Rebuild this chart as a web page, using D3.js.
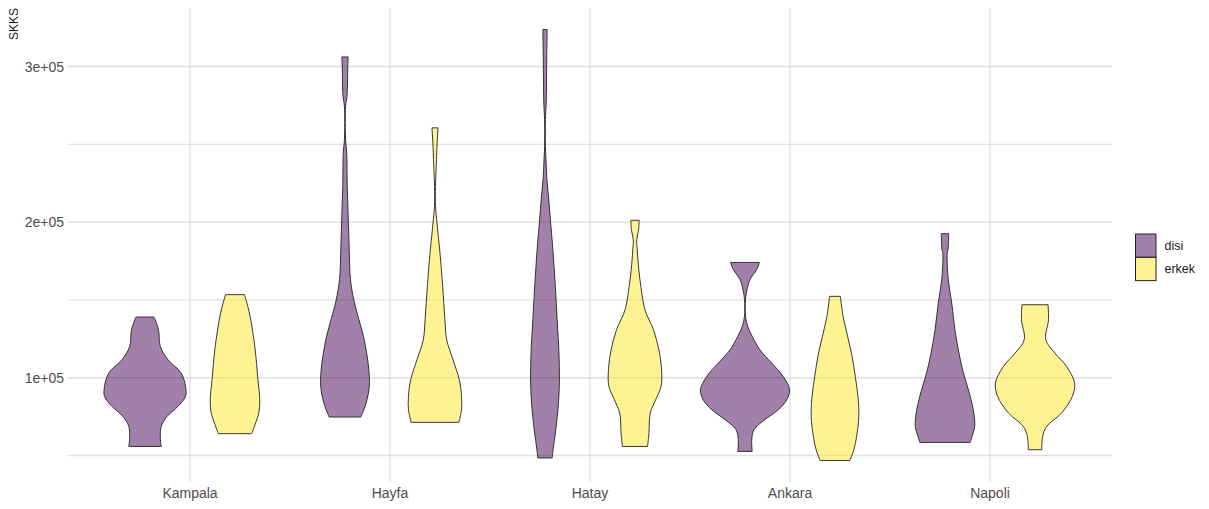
<!DOCTYPE html>
<html>
<head>
<meta charset="utf-8">
<script src="https://cdn.jsdelivr.net/npm/d3@7"></script>
<style>
  html, body { margin: 0; padding: 0; background: #ffffff; }
  svg { display: block; font-family: "Liberation Sans", Arial, sans-serif; }
</style>
</head>
<body>
<svg id="chart" width="1209" height="509"></svg>
<script>
// ---- data (SKKS values and relative violin density) ----
const cities = ["Kampala", "Hayfa", "Hatay", "Ankara", "Napoli"];
const groups = ["disi", "erkek"];
const fillColors = ["#440154", "#FDE725"];
const yTicks = [1e5, 2e5, 3e5];
const yMinorTicks = [5e4, 1.5e5, 2.5e5];
const yTickLabels = ["1e+05", "2e+05", "3e+05"];
const yTitle = "SKKS";

// [SKKS, relative density]
const kampalaDisi = [[139000,.20],[130900,.30],[120100,.34],[111600,.51],[103200,.80],[94400,.90],[88000,.90],[81500,.73],[75100,.49],[68700,.36],[62200,.34],[55800,.36]];
const kampalaErkek = [[153400,.21],[141600,.32],[120100,.44],[98700,.51],[85900,.55],[77500,.53],[71100,.46],[64000,.37]];
const hayfaDisi = [[306200,.07],[298100,.06],[280900,.045],[274500,.013],[253100,.013],[244700,.038],[223000,.05],[201600,.073],[180400,.096],[167500,.11],[158700,.14],[148200,.21],[137300,.31],[126600,.41],[116100,.48],[105100,.53],[94400,.54],[85900,.49],[79400,.42],[74700,.35]];
const hayfaErkek = [[260600,.067],[248800,.044],[240200,.033],[223000,.011],[210200,.011],[201600,.038],[190900,.073],[180400,.11],[158700,.17],[137300,.22],[124400,.26],[111600,.40],[98700,.54],[88000,.59],[79400,.59],[71300,.53]];
const hatayDisi = [[323800,.049],[304500,.038],[276700,.027],[265900,.009],[248800,.009],[240200,.022],[227300,.044],[214500,.084],[201600,.12],[180400,.18],[158700,.23],[137300,.27],[116100,.31],[98700,.32],[83900,.30],[66600,.24],[53700,.18],[48400,.16]];
const hatayErkek = [[201200,.093],[194700,.078],[188700,.038],[182300,.049],[169500,.084],[158700,.13],[143700,.22],[130900,.41],[118000,.53],[105100,.59],[94400,.58],[85900,.46],[77300,.34],[64400,.31],[55800,.28]];
const ankaraDisi = [[174100,.32],[169500,.26],[163000,.11],[156600,.044],[150200,.011],[139400,.011],[133000,.06],[126600,.16],[118000,.33],[109500,.59],[100800,.85],[92300,.99],[85900,.93],[79400,.74],[73000,.44],[66600,.20],[60100,.15],[52600,.16]];
const ankaraErkek = [[152300,.12],[139400,.18],[126600,.28],[113700,.38],[100800,.45],[88000,.51],[75100,.53],[62200,.48],[53700,.42],[46800,.33]];
const napoliDisi = [[192600,.082],[182300,.067],[180200,.049],[163000,.073],[148000,.15],[130900,.22],[115900,.31],[103000,.41],[90200,.54],[77300,.64],[68700,.66],[62200,.60],[58400,.56]];
const napoliErkek = [[146900,.29],[137300,.30],[124400,.24],[115900,.44],[107300,.70],[96600,.88],[88000,.83],[77300,.59],[68700,.26],[62200,.17],[53700,.15]];

const violins = [
  {city:"Kampala", group:"disi", pts:kampalaDisi},
  {city:"Kampala", group:"erkek", pts:kampalaErkek},
  {city:"Hayfa", group:"disi", pts:hayfaDisi},
  {city:"Hayfa", group:"erkek", pts:hayfaErkek},
  {city:"Hatay", group:"disi", pts:hatayDisi},
  {city:"Hatay", group:"erkek", pts:hatayErkek},
  {city:"Ankara", group:"disi", pts:ankaraDisi},
  {city:"Ankara", group:"erkek", pts:ankaraErkek},
  {city:"Napoli", group:"disi", pts:napoliDisi},
  {city:"Napoli", group:"erkek", pts:napoliErkek}
];

// ---- layout ----
const svg = d3.select("#chart");
const panel = {left: 68, right: 1112, top: 8, bottom: 482};

const allVals = violins.flatMap(v => v.pts.map(p => p[0]));
const vMin = d3.min(allVals), vMax = d3.max(allVals);
const pad = (vMax - vMin) * 0.05;
const y = d3.scaleLinear().domain([vMin - pad, vMax + pad]).range([panel.bottom, panel.top]);

const x = d3.scaleBand().domain(cities).range([70, 1110]).paddingInner(0).paddingOuter(0.1);
const xSub = d3.scaleBand().domain(groups).range([x.bandwidth()*0.05, x.bandwidth()*0.95]);
const w = d3.scaleLinear().domain([0, 1]).range([0, xSub.bandwidth() / 2]);
const color = d3.scaleOrdinal().domain(groups).range(fillColors);

// gridlines
const grid = svg.append("g");
grid.selectAll("line.hmin").data(yMinorTicks).join("line")
  .attr("x1", panel.left).attr("x2", panel.right)
  .attr("y1", d => y(d)).attr("y2", d => y(d))
  .attr("stroke", "#e2e2e2").attr("stroke-width", 1.4);
grid.selectAll("line.hmaj").data(yTicks).join("line")
  .attr("x1", panel.left).attr("x2", panel.right)
  .attr("y1", d => y(d)).attr("y2", d => y(d))
  .attr("stroke", "#dedede").attr("stroke-width", 1.4);
grid.selectAll("line.v").data(cities).join("line")
  .attr("x1", d => x(d) + x.bandwidth()/2).attr("x2", d => x(d) + x.bandwidth()/2)
  .attr("y1", panel.top).attr("y2", panel.bottom)
  .attr("stroke", "#d6d6d6").attr("stroke-width", 1);

// violins
const vg = svg.append("g");
violins.forEach(v => {
  const cx = x(v.city) + xSub(v.group) + xSub.bandwidth()/2;
  const area = d3.area()
    .y(p => y(p[0]))
    .x0(p => cx - w(p[1]))
    .x1(p => cx + w(p[1]))
    .curve(d3.curveCatmullRom.alpha(0.5));
  const pts = v.pts.slice().sort((a, b) => b[0] - a[0]);
  vg.append("path")
    .attr("d", area(pts))
    .attr("fill", color(v.group))
    .attr("fill-opacity", 0.5)
    .attr("stroke", "#222222")
    .attr("stroke-width", 0.9)
    .attr("stroke-linejoin", "round");
});

// y axis labels
const yAxis = d3.axisLeft(y).tickValues(yTicks).tickSize(0).tickPadding(4)
  .tickFormat((d, i) => yTickLabels[i]);
const yg = svg.append("g").attr("transform", `translate(${panel.left},0)`).call(yAxis);
yg.select(".domain").remove();
yg.selectAll("text").attr("font-size", 14).attr("fill", "#4d4d4d")
  .attr("font-family", "Liberation Sans, Arial, sans-serif");

// x axis labels
const xAxis = d3.axisBottom(x).tickSize(0).tickPadding(6);
const xg = svg.append("g").attr("transform", `translate(0,${panel.bottom})`).call(xAxis);
xg.select(".domain").remove();
xg.selectAll("text").attr("font-size", 14).attr("fill", "#4d4d4d")
  .attr("font-family", "Liberation Sans, Arial, sans-serif");

// y title
svg.append("text")
  .attr("transform", "translate(18,8) rotate(-90)")
  .attr("text-anchor", "end")
  .attr("font-size", 12)
  .attr("fill", "#1a1a1a")
  .text(yTitle);

// legend
const lg = svg.append("g").attr("transform", "translate(1135.5,234)");
groups.forEach((g, i) => {
  lg.append("rect")
    .attr("x", 0).attr("y", i * 23.3)
    .attr("width", 20.5).attr("height", 23.3)
    .attr("fill", color(g)).attr("fill-opacity", 0.5)
    .attr("stroke", "#222222").attr("stroke-width", 1);
  lg.append("text")
    .attr("x", 29).attr("y", i * 23.3 + 11.65)
    .attr("dy", "0.35em")
    .attr("font-size", 12.5)
    .attr("fill", "#1a1a1a")
    .text(g);
});
</script>
</body>
</html>
